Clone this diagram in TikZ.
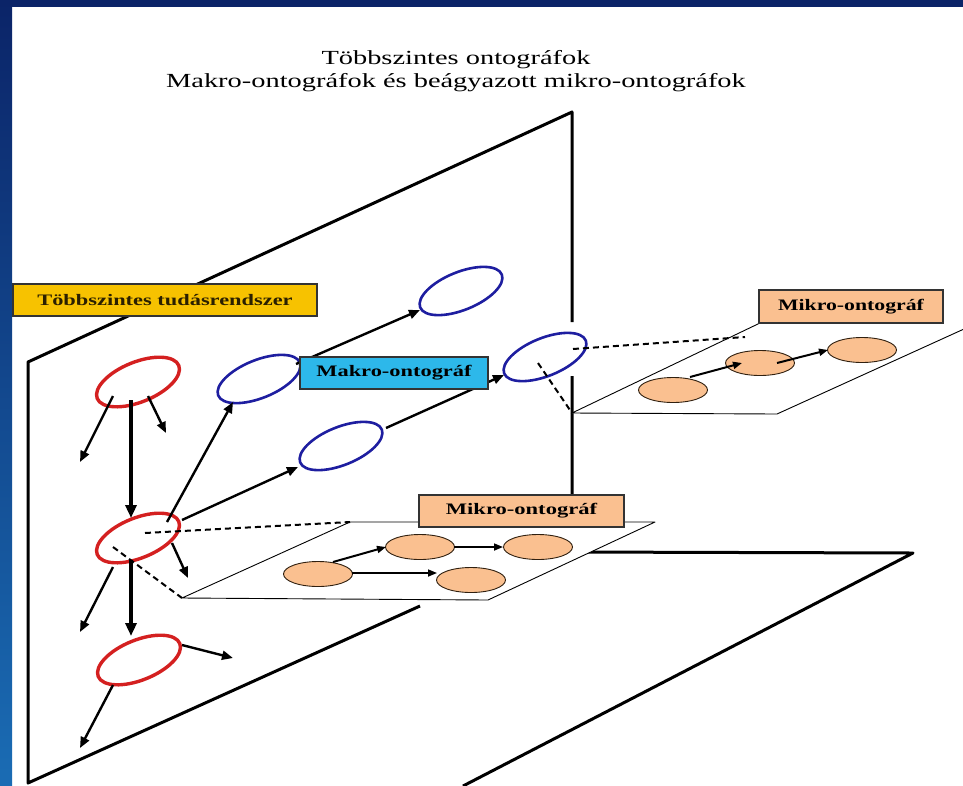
\documentclass[tikz,border=0pt]{standalone}
\usepackage{graphicx}
\usepackage{fontspec}
\setmainfont{Liberation Serif}
\usetikzlibrary{arrows.meta,shapes.geometric}
\definecolor{navy}{HTML}{0B2468}
\definecolor{bandbot}{HTML}{1A6CB4}
\definecolor{redc}{HTML}{D42020}
\definecolor{bluec}{HTML}{1E1EA0}
\definecolor{peach}{HTML}{FAC090}
\definecolor{gold}{HTML}{F7C200}
\definecolor{cyanbox}{HTML}{2DB8EA}
\definecolor{boxtext}{HTML}{2B2000}
\begin{document}
\begin{tikzpicture}[x=1pt,y=-1pt,
  plane/.style={line width=3pt, line join=round},
  thinplane/.style={line width=0.9pt, fill=white, line join=round},
  macro/.style={ellipse, draw=bluec, line width=2.6pt, minimum width=88pt, minimum height=38pt, inner sep=0pt, rotate=22},
  knode/.style={ellipse, draw=redc, line width=3.4pt, minimum width=88pt, minimum height=40pt, inner sep=0pt, rotate=22},
  micro/.style={ellipse, draw=black!75!brown, fill=peach, line width=0.9pt, minimum width=69pt, minimum height=25pt, inner sep=0pt},
  tagbox/.style={draw=black!80, line width=1.2pt, inner sep=0pt, minimum height=32pt, text=black, font=\fontsize{16}{18}\selectfont\bfseries},
  arr/.style={line width=2.4pt, -{Triangle[length=11pt,width=9pt]}},
  bigarr/.style={line width=3.6pt, -{Triangle[length=13pt,width=11pt]}},
  micarr/.style={line width=2pt, -{Triangle[length=9pt,width=7pt]}},
  dashline/.style={line width=2pt, dash pattern=on 6pt off 4pt},
  titlefont/.style={font=\fontsize{20}{24}\selectfont, inner sep=0pt, anchor=base}
]
\useasboundingbox (0,0) rectangle (963,785);
\fill[white] (0,0) rectangle (963,785);
\shade[top color=navy, bottom color=bandbot] (0,0) rectangle (12,785);
\fill[navy] (0,0) rectangle (963,7);

% title
\node[titlefont] (title1) at (456,64) {\scalebox{1.42}[1]{Többszintes ontográfok}};
\node[titlefont] (title2) at (456,87) {\scalebox{1.42}[1]{Makro-ontográfok és beágyazott mikro-ontográfok}};

% planes
\coordinate (VBL) at (28,783);
\coordinate (VTL) at (28,362);
\coordinate (VTR) at (572,112);
\coordinate (VR1) at (572,322);
\coordinate (VR2) at (572,376);
\coordinate (VRB) at (572,552);
\coordinate (FTR) at (913,553);
\coordinate (FBR) at (463,786);
\coordinate (FL) at (420,606);
\draw[plane] (FL) -- (VBL) -- (VTL) -- (VTR) -- (VR1);
\draw[plane] (VR2) -- (VRB) -- (FTR) -- (FBR);

\coordinate (UA) at (572,413);
\coordinate (UB) at (777,414);
\coordinate (UC) at (964,329);
\coordinate (UD) at (760,323);
\draw[thinplane] (UD) -- (UA) -- (UB) -- (UC);

\coordinate (LA) at (182,598);
\coordinate (LB) at (488,600);
\coordinate (LC) at (655,522);
\coordinate (LD) at (350,522);
\draw[thinplane] (LA) -- (LB) -- (LC) -- (LD) -- cycle;

% knowledge system nodes
\node[knode] (R1) at (138,382) {};
\node[knode] (R2) at (138,538) {};
\node[knode] (R3) at (139,660) {};
% macro nodes
\node[macro] (B1) at (259,379) {};
\node[macro] (B2) at (461,291) {};
\node[macro] (B3) at (341,446) {};
\node[macro] (B4) at (545,357) {};
% micro nodes
\node[micro] (n1) at (673,390) {};
\node[micro] (n2) at (760,363) {};
\node[micro] (n3) at (862,350) {};
\node[micro] (m1) at (318,574) {};
\node[micro] (m2) at (420,547) {};
\node[micro] (m3) at (538,547) {};
\node[micro] (m4) at (471,580) {};

% free ends
\coordinate (a1) at (80,462);
\coordinate (a2) at (166,433);
\coordinate (a3) at (80,632);
\coordinate (a4) at (188,578);
\coordinate (a5) at (233,658);
\coordinate (a6) at (80,748);
\coordinate (pu) at (745,337);

% arrows
\draw[bigarr] ([shift={(-7,18)}]R1.center) -- ([shift={(-7,-20)}]R2.center);
\draw[bigarr] ([shift={(-7,22)}]R2.center) -- ([shift={(-8,-24)}]R3.center);
\draw[arr] ([shift={(-25,14)}]R1.center) -- (a1);
\draw[arr] ([shift={(10,14)}]R1.center) -- (a2);
\draw[arr] ([shift={(-25,29)}]R2.center) -- (a3);
\draw[arr] ([shift={(34,5)}]R2.center) -- (a4);
\draw[arr] ([shift={(43,-15)}]R3.center) -- (a5);
\draw[arr] ([shift={(-26,25)}]R3.center) -- (a6);
\draw[arr] ([shift={(29,-16)}]R2.center) -- ([shift={(-26,23)}]B1.center);
\draw[arr] ([shift={(44,-18)}]R2.center) -- ([shift={(-43,21)}]B3.center);
\draw[arr] ([shift={(37,-15)}]B1.center) -- ([shift={(-41,19)}]B2.center);
\draw[arr] ([shift={(45,-18)}]B3.center) -- ([shift={(-41,18)}]B4.center);
\draw[micarr] ([shift={(17,-13)}]n1.center) -- ([shift={(-18,0)}]n2.center);
\draw[micarr] ([shift={(17,0)}]n2.center) -- ([shift={(-34,0)}]n3.center);
\draw[micarr] ([shift={(15,-12)}]m1.center) -- ([shift={(-34,0)}]m2.center);
\draw[micarr, line width=1.6pt] ([shift={(34,-1)}]m1.center) -- ([shift={(-34,-7)}]m4.center);
\draw[micarr, line width=1.6pt] ([shift={(34,0)}]m2.center) -- ([shift={(-35,0)}]m3.center);

% dashed embedding lines
\draw[dashline] ([shift={(28,-8)}]B4.center) -- (pu);
\draw[dashline] ([shift={(-7,6)}]B4.center) -- (UA);
\draw[dashline] ([shift={(7,-5)}]R2.center) -- (LD);
\draw[dashline] ([shift={(-25,9)}]R2.center) -- (LA);

% labels
\node[tagbox, fill=gold, text=boxtext, minimum width=304pt] (sys) at (165,300) {\scalebox{1.4}[1]{Többszintes tudásrendszer}};
\node[tagbox, fill=cyanbox, minimum width=188pt] (mak) at (394,373) {\scalebox{1.4}[1]{Makro-ontográf}};
\node[tagbox, fill=peach, minimum width=184pt, minimum height=33pt] (mik1) at (851,306.5) {\scalebox{1.36}[1]{Mikro-ontográf}};
\node[tagbox, fill=peach, minimum width=205pt] (mik2) at (521.5,511) {\scalebox{1.41}[1]{Mikro-ontográf}};
\end{tikzpicture}
\end{document}
